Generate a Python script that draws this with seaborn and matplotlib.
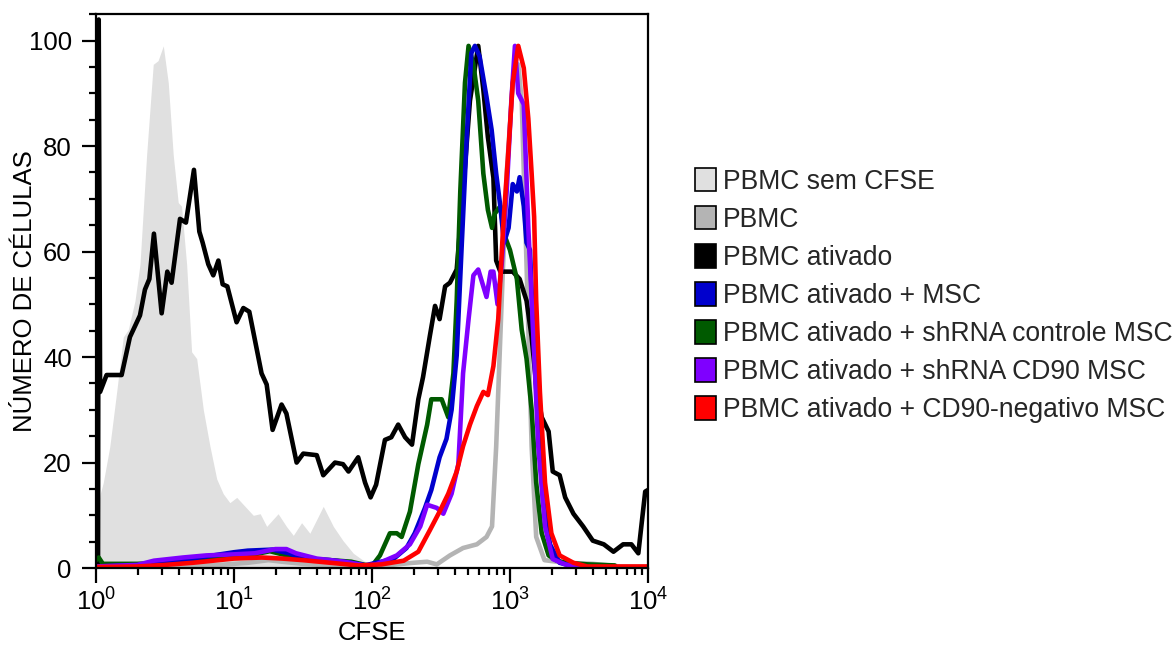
import numpy as np
import pandas as pd
import matplotlib
matplotlib.use("Agg")
import matplotlib.pyplot as plt
from matplotlib.patches import Patch
from matplotlib.ticker import MultipleLocator, LogLocator, NullFormatter
import seaborn as sns

# Histogram traces: x positions are decades of CFSE (log10), y is % of max cell count
labels = [
    "PBMC sem CFSE",
    "PBMC",
    "PBMC ativado",
    "PBMC ativado + MSC",
    "PBMC ativado + shRNA controle MSC",
    "PBMC ativado + shRNA CD90 MSC",
    "PBMC ativado + CD90-negativo MSC",
]
colors = ["#e0e0e0", "#b4b4b4", "#000000", "#0000cd", "#005a00", "#7f00ff", "#ff0000"]

unstained_log = [0.0, 0.03, 0.053, 0.10, 0.15, 0.198, 0.234, 0.283, 0.319, 0.367, 0.415, 0.45,
                 0.488, 0.524, 0.56, 0.596, 0.62, 0.657, 0.693, 0.73, 0.778, 0.826, 0.875,
                 0.922, 0.97, 1.02, 1.08, 1.14, 1.19, 1.237, 1.32, 1.38, 1.43, 1.49, 1.55,
                 1.647, 1.72, 1.79, 1.865, 1.94, 2.01, 2.1]
unstained_val = [9.0, 14.0, 16.2, 23.0, 33.4, 43.8, 45.2, 50.7, 57.6, 78.3, 95.5, 96.2,
                 99.0, 92.0, 78.3, 69.3, 68.6, 57.6, 41.0, 39.7, 30.0, 23.1, 16.9,
                 14.1, 12.4, 13.4, 11.7, 10.0, 10.3, 7.9, 10.3, 7.9, 6.2, 8.6, 6.6,
                 11.7, 7.9, 5.2, 2.8, 1.4, 0.5, 0.0]

pbmc_log = [0.0, 0.5, 0.9, 1.1, 1.25, 1.35, 1.5, 1.7, 1.9, 2.1, 2.3, 2.40, 2.47, 2.565,
            2.66, 2.76, 2.83, 2.87, 2.90, 2.94, 2.976, 3.02, 3.06, 3.085, 3.12, 3.157,
            3.19, 3.25, 3.4, 3.6, 3.8, 4.0]
pbmc_val = [0.2, 0.3, 0.6, 1.0, 1.5, 1.2, 0.8, 0.5, 0.3, 0.5, 1.0, 1.2, 0.7, 2.4,
            3.8, 4.5, 5.9, 7.9, 23.0, 50.7, 74.8, 92.0, 95.5, 88.6, 57.6, 23.0,
            5.9, 1.5, 1.0, 0.8, 0.3, 0.3]

act_log = [0.015, 0.02, 0.03, 0.077, 0.186, 0.246, 0.319, 0.355, 0.387, 0.42, 0.476, 0.517,
           0.548, 0.609, 0.652, 0.71, 0.749, 0.773, 0.814, 0.85, 0.887, 0.918, 0.952,
           1.019, 1.068, 1.111, 1.2, 1.237, 1.28, 1.345, 1.38, 1.454, 1.502, 1.6, 1.647,
           1.732, 1.79, 1.83, 1.9, 1.95, 1.99, 2.03, 2.094, 2.14, 2.19, 2.24, 2.29,
           2.336, 2.37, 2.42, 2.457, 2.49, 2.53, 2.565, 2.614, 2.66, 2.71, 2.77, 2.807,
           2.84, 2.88, 2.90, 2.93, 3.02, 3.07, 3.12, 3.157, 3.19, 3.23, 3.28, 3.31,
           3.36, 3.40, 3.46, 3.53, 3.60, 3.68, 3.75, 3.82, 3.88, 3.93, 3.98, 4.0]
act_val = [0.0, 104.0, 33.4, 36.6, 36.6, 43.8, 47.9, 52.8, 54.8, 63.4, 48.3, 56.2,
           54.1, 66.2, 65.5, 75.5, 63.8, 61.7, 57.6, 55.5, 58.3, 53.8, 53.4,
           46.6, 49.3, 48.6, 36.9, 34.8, 26.2, 31.0, 29.3, 20.0, 21.7, 21.4, 17.6,
           20.0, 19.7, 18.3, 21.0, 16.2, 13.4, 15.8, 24.3, 24.8, 27.2, 24.8, 23.4,
           32.0, 36.2, 44.1, 49.7, 47.2, 53.4, 54.1, 56.6, 71.4, 88.6, 99.0, 90.7,
           81.7, 74.0, 58.3, 56.2, 56.2, 54.8, 50.7, 43.8, 34.8, 28.6, 25.9, 18.3,
           17.6, 13.4, 10.3, 7.9, 5.2, 4.5, 3.1, 4.5, 4.5, 2.8, 14.5, 14.8]

msc_log = [0.0, 0.3, 0.5, 0.7, 0.85, 1.0, 1.1, 1.28, 1.4, 1.5, 1.7, 1.85, 1.95, 2.03,
           2.155, 2.25, 2.31, 2.384, 2.43, 2.49, 2.54, 2.577, 2.614, 2.65, 2.687, 2.72,
           2.746, 2.78, 2.83, 2.867, 2.90, 2.93, 2.957, 2.99, 3.02, 3.05, 3.07, 3.10,
           3.12, 3.145, 3.17, 3.205, 3.24, 3.29, 3.36, 3.46]
msc_val = [0.3, 0.5, 1.2, 1.8, 2.4, 3.0, 3.3, 3.5, 2.8, 1.8, 1.5, 1.0, 0.5, 1.0,
           1.7, 3.8, 6.6, 11.4, 14.8, 21.0, 24.5, 30.0, 40.3, 61.0, 81.7, 97.6,
           99.0, 97.0, 89.3, 83.1, 74.8, 68.6, 61.7, 64.5, 72.8, 71.4, 74.1, 68.6,
           61.7, 60.3, 43.8, 26.6, 12.8, 4.5, 1.0, 0.3]

ctrl_log = [0.0, 0.02, 0.05, 0.3, 0.5, 0.8, 1.0, 1.15, 1.26, 1.35, 1.5, 1.7, 1.85, 1.95,
            2.0, 2.058, 2.13, 2.18, 2.215, 2.275, 2.336, 2.40, 2.43, 2.505, 2.553, 2.59,
            2.614, 2.64, 2.674, 2.70, 2.735, 2.77, 2.807, 2.84, 2.87, 2.89, 2.93, 2.96,
            3.0, 3.05, 3.085, 3.12, 3.157, 3.19, 3.23, 3.28, 3.34, 3.41, 3.56, 3.76]
ctrl_val = [1.5, 2.0, 0.8, 0.8, 1.0, 1.8, 2.2, 2.6, 3.2, 2.6, 1.8, 1.5, 1.2, 0.6,
            0.4, 2.4, 6.6, 6.6, 5.9, 10.7, 19.7, 27.2, 32.0, 32.0, 28.6, 36.9,
            50.7, 71.4, 92.0, 99.0, 95.5, 88.6, 74.8, 67.9, 64.5, 67.2, 68.6, 63.1,
            60.3, 54.8, 45.2, 39.7, 30.0, 16.2, 6.6, 2.4, 1.4, 1.0, 0.7, 0.5]

cd90_log = [0.0, 0.3, 0.42, 0.63, 0.8, 1.0, 1.15, 1.3, 1.38, 1.45, 1.6, 1.8, 1.95, 2.03,
            2.18, 2.275, 2.35, 2.40, 2.47, 2.517, 2.577, 2.626, 2.66, 2.70, 2.735, 2.77,
            2.807, 2.83, 2.86, 2.88, 2.91, 2.94, 2.976, 3.01, 3.036, 3.06, 3.10, 3.133,
            3.17, 3.205, 3.254, 3.31, 3.40, 3.5]
cd90_val = [0.3, 0.6, 1.4, 2.0, 2.4, 2.6, 2.8, 3.6, 3.6, 2.8, 1.8, 1.2, 0.5, 0.7,
            2.4, 4.5, 7.9, 12.0, 11.4, 10.3, 14.1, 19.7, 36.9, 47.2, 55.5, 56.6,
            53.4, 51.4, 56.2, 56.2, 50.0, 57.6, 71.4, 88.6, 99.0, 90.0, 87.9, 64.5,
            43.8, 23.1, 7.9, 1.7, 0.7, 0.3]

neg_log = [0.0, 0.3, 0.5, 0.7, 0.85, 1.0, 1.2, 1.35, 1.5, 1.7, 1.9, 2.07, 2.23, 2.336,
           2.42, 2.49, 2.553, 2.614, 2.66, 2.71, 2.76, 2.807, 2.84, 2.88, 2.915, 2.95,
           2.99, 3.02, 3.06, 3.10, 3.133, 3.157, 3.175, 3.19, 3.217, 3.254, 3.30, 3.36,
           3.46, 3.56, 4.0]
neg_val = [0.2, 0.3, 0.6, 1.0, 1.4, 1.8, 2.0, 1.8, 1.5, 1.0, 0.5, 0.7, 1.4, 3.1,
           7.2, 10.7, 14.1, 18.3, 23.1, 27.2, 30.7, 33.4, 32.8, 38.3, 47.2, 64.5,
           79.7, 92.0, 99.0, 94.8, 85.2, 74.8, 66.6, 50.7, 33.4, 16.2, 6.6, 2.4,
           1.0, 0.3, 0.3]

line_series = [
    (labels[1], pbmc_log, pbmc_val),
    (labels[2], act_log, act_val),
    (labels[4], ctrl_log, ctrl_val),
    (labels[3], msc_log, msc_val),
    (labels[5], cd90_log, cd90_val),
    (labels[6], neg_log, neg_val),
]

frames = []
for name, lx, ly in line_series:
    frames.append(pd.DataFrame({"cfse": np.power(10.0, lx), "pct": ly, "amostra": name}))
df = pd.concat(frames, ignore_index=True)

sns.set_style("ticks")
plt.rcParams["font.family"] = ["Liberation Sans", "DejaVu Sans"]
plt.rcParams["mathtext.default"] = "regular"
plt.rcParams["axes.linewidth"] = 1.6

fig, ax = plt.subplots(figsize=(11.76, 6.47), dpi=100)
fig.subplots_adjust(left=0.0816, right=0.551, top=0.978, bottom=0.122)

# unstained control drawn as a filled histogram
ax.fill_between(np.power(10.0, unstained_log), unstained_val, 0,
                color=colors[0], linewidth=0, zorder=1)

palette = dict(zip(labels, colors))
sns.lineplot(data=df, x="cfse", y="pct", hue="amostra",
             hue_order=[s[0] for s in line_series], palette=palette,
             sort=False, estimator=None, linewidth=3.3, legend=False, ax=ax,
             zorder=2)
for ln in ax.get_lines():
    ln.set_solid_joinstyle("round")
    ln.set_clip_on(True)

ax.set_xscale("log")
ax.set_xlim(1, 1e4)
ax.set_ylim(0, 105)
ax.yaxis.set_major_locator(MultipleLocator(20))
ax.yaxis.set_minor_locator(MultipleLocator(5))
ax.xaxis.set_major_locator(LogLocator(base=10, numticks=10))
ax.xaxis.set_minor_locator(LogLocator(base=10, subs=np.arange(2, 10), numticks=20))
ax.xaxis.set_minor_formatter(NullFormatter())

ax.tick_params(axis="both", which="major", direction="out", width=1.6,
               labelsize=18.5, color="black", labelcolor="black")
ax.tick_params(axis="x", which="major", length=11, pad=4)
ax.tick_params(axis="y", which="major", length=10, pad=7.5)
ax.tick_params(axis="both", which="minor", direction="out", length=4.8, width=1.6,
               color="black")
for sp in ax.spines.values():
    sp.set_visible(True)
    sp.set_color("black")
    sp.set_linewidth(1.6)

ax.set_xlabel("CFSE", fontsize=18.5, labelpad=3.5, color="black")
ax.set_ylabel("NÚMERO DE CÉLULAS", fontsize=18.5, labelpad=-6, color="black")

handles = [Patch(facecolor=c, edgecolor="black", linewidth=1.2) for c in colors]
fig.legend(handles, labels, loc="upper left", bbox_to_anchor=(0.591, 0.741),
           frameon=False, fontsize=19.1, handlelength=0.8, handleheight=1.0,
           handletextpad=0.25, labelspacing=0.42, borderpad=0, borderaxespad=0)

fig.savefig("out.png", dpi=100)
